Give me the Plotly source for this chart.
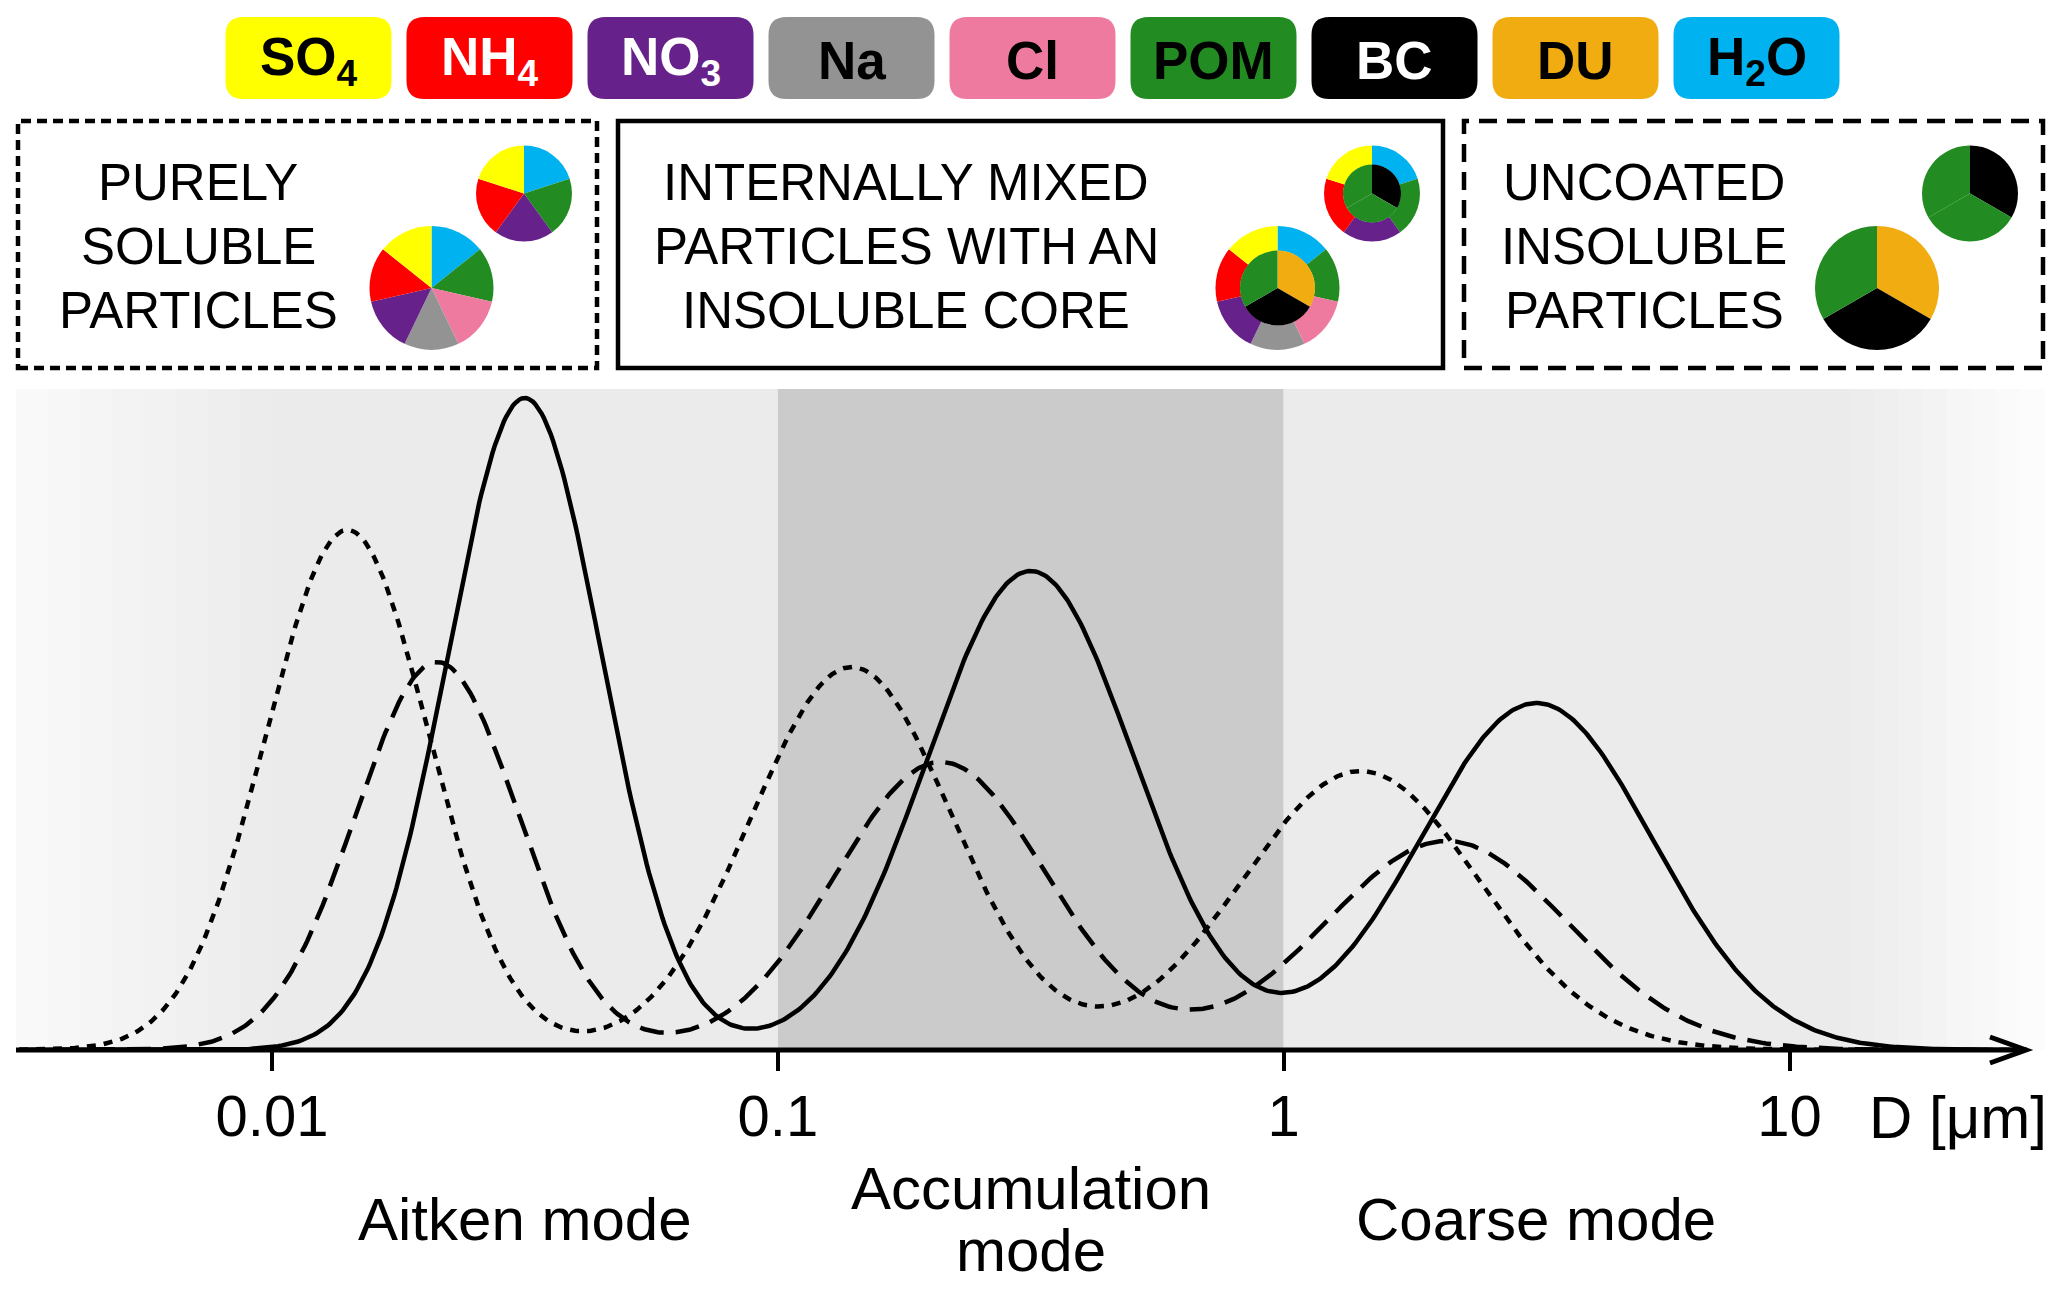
import numpy as np
import plotly.graph_objects as go

W, H = 2067, 1290
PAGE_PAD = 8  # default body margin of the html page

# --- size distribution modes ---
# median diameter [um], width [decades of D], peak height [a.u.]
SOLID_D = [0.0316, 0.316, 3.16]
SOLID_W = [0.152, 0.205, 0.230]
SOLID_H = [65.2, 47.9, 34.7]

DASH_D = [0.0212, 0.210, 2.10]
DASH_W = [0.161, 0.209, 0.240]
DASH_H = [38.8, 28.8, 20.9]

DOT_D = [0.0141, 0.140, 1.42]
DOT_W = [0.161, 0.199, 0.235]
DOT_H = [52.0, 38.3, 27.9]

TICK_VALS = [0.01, 0.1, 1, 10]
TICK_TEXT = ['0.01', '0.1', '1', '10']
MODE_CENTERS = [0.0316, 0.316, 3.16]
MODE_LABELS = ['Aitken mode', 'Accumulation<br>mode', 'Coarse mode']

SPECIES = ['SO4', 'NH4', 'NO3', 'Na', 'Cl', 'POM', 'BC', 'DU', 'H2O']
SPECIES_LABEL = ['SO<sub>4</sub>', 'NH<sub>4</sub>', 'NO<sub>3</sub>', 'Na', 'Cl',
                 'POM', 'BC', 'DU', 'H<sub>2</sub>O']
SPECIES_COLOR = ['#ffff00', '#ff0000', '#66218a', '#939393', '#ef7a9f',
                 '#228b22', '#000000', '#f0ac10', '#00b2ef']
SPECIES_TEXT = ['black', 'white', 'white', 'black', 'black',
                'black', 'white', 'black', 'black']
COL = dict(zip(SPECIES, SPECIES_COLOR))

# particle compositions, clockwise from 12 o'clock
SMALL_SOLUBLE = ['H2O', 'POM', 'NO3', 'NH4', 'SO4']
LARGE_SOLUBLE = ['H2O', 'POM', 'Cl', 'Na', 'NO3', 'NH4', 'SO4']
SMALL_CORE = ['BC', 'POM', 'POM']
LARGE_CORE = ['DU', 'BC', 'POM']

BOX_LINES = [
    ['PURELY', 'SOLUBLE', 'PARTICLES'],
    ['INTERNALLY MIXED', 'PARTICLES WITH AN', 'INSOLUBLE CORE'],
    ['UNCOATED', 'INSOLUBLE', 'PARTICLES'],
]

FONT = 'Liberation Sans, Arial, Helvetica, sans-serif'

# --- geometry, in pixels of the 2067x1290 screenshot ---
FW, FH = W - 2 * PAGE_PAD, H - 2 * PAGE_PAD
X_LEFT, X_RIGHT = 16, 2045
Y_TOP, Y_AXIS = 389, 1050
LOG_RANGE = [-2.506, 1.505]
Y_RANGE = [0, 66.1]


def px(x):
    return (x - PAGE_PAD) / FW


def py(y):
    return 1 - (y - PAGE_PAD) / FH


def log_to_pix(lg):
    return X_LEFT + (lg - LOG_RANGE[0]) / (LOG_RANGE[1] - LOG_RANGE[0]) * (X_RIGHT - X_LEFT)


def size_dist(d, w, h, logd):
    out = np.zeros_like(logd)
    for dd, ww, hh in zip(d, w, h):
        out += hh * np.exp(-0.5 * ((logd - np.log10(dd)) / ww) ** 2)
    return out


fig = go.Figure()

logd = np.linspace(-2.5, 1.47, 900)
D = 10 ** logd
for d, w, h, dash in [(DOT_D, DOT_W, DOT_H, '9px,8px'),
                      (DASH_D, DASH_W, DASH_H, '24px,12px'),
                      (SOLID_D, SOLID_W, SOLID_H, 'solid')]:
    fig.add_trace(go.Scatter(
        x=D, y=size_dist(d, w, h, logd), mode='lines',
        line=dict(color='black', width=4.5, dash=dash),
        hoverinfo='skip', showlegend=False, cliponaxis=False,
    ))

shapes = []


def rect(x0, y0, x1, y1, color):
    shapes.append(dict(type='rect', xref='paper', yref='paper', layer='below',
                       x0=px(x0), x1=px(x1), y0=py(y1), y1=py(y0),
                       fillcolor=color, line=dict(width=0)))


# background: faded edges, light Aitken/coarse, dark accumulation
p001 = log_to_pix(np.log10(0.01))
p01 = log_to_pix(np.log10(0.1))
p1 = log_to_pix(np.log10(1))
p_fade = log_to_pix(np.log10(13.2))
n = 8
for i in range(n):
    g = int(round(249 - (249 - 236) * i / (n - 1)))
    xa = X_LEFT + (p001 - X_LEFT) * i / n
    xb = X_LEFT + (p001 - X_LEFT) * (i + 1) / n
    rect(xa, Y_TOP, xb + 0.5, Y_AXIS, f'rgb({g},{g},{g})')
rect(p001, Y_TOP, p01, Y_AXIS, '#ebebeb')
rect(p01, Y_TOP, p1, Y_AXIS, '#cbcbcb')
rect(p1, Y_TOP, p_fade, Y_AXIS, '#ebebeb')
for i in range(n):
    g = int(round(237 + (252 - 237) * i / (n - 1)))
    xa = p_fade + (X_RIGHT - p_fade) * i / n
    xb = p_fade + (X_RIGHT - p_fade) * (i + 1) / n
    rect(xa - 0.5, Y_TOP, xb, Y_AXIS, f'rgb({g},{g},{g})')

# axis line with open arrow head
shapes.append(dict(type='line', xref='paper', yref='paper', layer='above',
                   x0=px(16), x1=px(2022), y0=py(Y_AXIS), y1=py(Y_AXIS),
                   line=dict(color='black', width=5)))
shapes.append(dict(type='path', xref='paper', yref='paper', layer='above',
                   path=f'M {px(1990)} {py(1037)} L {px(2026)} {py(Y_AXIS)} L {px(1990)} {py(1063)}',
                   line=dict(color='black', width=5)))


def rounded(x0, y0, x1, y1, r, color):
    rx, ry = r / FW, r / FH
    a, b, c, d = px(x0), px(x1), py(y1), py(y0)
    path = (f'M {a + rx} {c} L {b - rx} {c} Q {b} {c} {b} {c + ry} '
            f'L {b} {d - ry} Q {b} {d} {b - rx} {d} L {a + rx} {d} '
            f'Q {a} {d} {a} {d - ry} L {a} {c + ry} Q {a} {c} {a + rx} {c} Z')
    shapes.append(dict(type='path', xref='paper', yref='paper', path=path,
                       fillcolor=color, line=dict(width=0), layer='above'))


annotations = []

# species legend chips
for i, (lab, col, tc) in enumerate(zip(SPECIES_LABEL, SPECIES_COLOR, SPECIES_TEXT)):
    x0 = 225.5 + i * 181
    rounded(x0, 17, x0 + 166, 99, 18, col)
    annotations.append(dict(x=px(x0 + 83), y=py(60), xref='paper', yref='paper',
                            text=f'<b>{lab}</b>', showarrow=False,
                            xanchor='center', yanchor='middle',
                            font=dict(family=FONT, size=53, color=tc)))

# particle-type boxes
boxes = [(18, '10px,6px', 198), (618, 'solid', 906), (1464, '18px,10px', 1644)]
box_right = [597, 1443, 2043]
for (x0, dash, cx), x1, lines in zip(boxes, box_right, BOX_LINES):
    shapes.append(dict(type='rect', xref='paper', yref='paper', layer='above',
                       x0=px(x0), x1=px(x1), y0=py(368), y1=py(121),
                       line=dict(color='black', width=4.5, dash=dash)))
    for j, t in enumerate(lines):
        annotations.append(dict(x=px(cx), y=py(182 + 64 * j), xref='paper', yref='paper',
                                text=t, showarrow=False, xanchor='center', yanchor='middle',
                                height=58,
                                font=dict(family=FONT, size=51, color='black')))


def pie(cx, cy, r, comp, hole=0.0):
    fig.add_trace(go.Pie(
        values=[1] * len(comp), labels=[f'{k}{i}' for i, k in enumerate(comp)],
        marker=dict(colors=[COL[k] for k in comp], line=dict(width=0)),
        domain=dict(x=[px(cx - r), px(cx + r)], y=[py(cy + r), py(cy - r)]),
        sort=False, direction='clockwise', rotation=0, hole=hole,
        textinfo='none', hoverinfo='skip', showlegend=False,
    ))


# purely soluble
pie(524, 193.5, 48, SMALL_SOLUBLE)
pie(431.5, 288, 62, LARGE_SOLUBLE)
# internally mixed: soluble shell around an insoluble core
pie(1372, 193.5, 48, SMALL_SOLUBLE, hole=0.6)
pie(1372, 193.5, 29, SMALL_CORE)
pie(1277.5, 288, 62, LARGE_SOLUBLE, hole=0.6)
pie(1277.5, 288, 37.5, LARGE_CORE)
# uncoated insoluble
pie(1970, 193.5, 48, SMALL_CORE)
pie(1877, 288, 62, LARGE_CORE)

# mode names under the axis (one annotation per line, tight line spacing)
for c, lab in zip(MODE_CENTERS, MODE_LABELS):
    parts = lab.split('<br>')
    ys = [1219] if len(parts) == 1 else [1188, 1250]
    for part, yy in zip(parts, ys):
        annotations.append(dict(x=np.log10(c), y=py(yy), xref='x', yref='paper',
                                text=part, showarrow=False, xanchor='center', yanchor='middle',
                                height=60,
                                font=dict(family=FONT, size=60, color='black')))

annotations.append(dict(x=px(1958), y=py(1117), xref='paper', yref='paper',
                        text='D [\u03bcm]', showarrow=False, xanchor='center', yanchor='middle',
                        font=dict(family=FONT, size=60, color='black')))

fig.update_layout(
    width=FW, height=FH,
    margin=dict(l=0, r=0, t=0, b=0),
    paper_bgcolor='white',
    plot_bgcolor='rgba(0,0,0,0)',
    xaxis=dict(type='log', range=LOG_RANGE, domain=[px(X_LEFT), px(X_RIGHT)],
               showgrid=False, zeroline=False, showline=False,
               tickvals=TICK_VALS, ticktext=TICK_TEXT,
               ticks='outside', ticklen=20, tickwidth=3.5, tickcolor='black',
               tickfont=dict(family=FONT, size=58, color='black'),
               ticklabelstandoff=-5),
    yaxis=dict(range=Y_RANGE, domain=[py(Y_AXIS), py(Y_TOP)], visible=False),
    shapes=shapes,
    annotations=annotations,
)

fig.write_html('out.html')
